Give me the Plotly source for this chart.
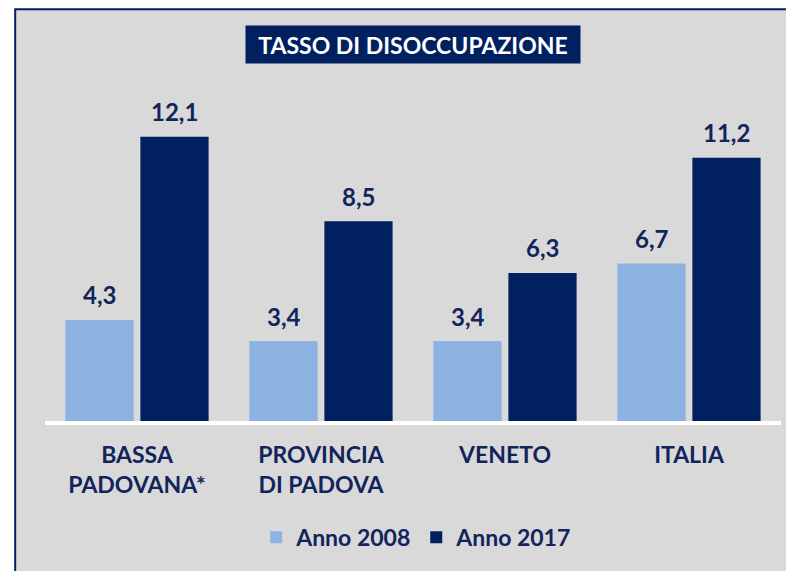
import plotly.graph_objects as go

categories = ["BASSA<br>PADOVANA*", "PROVINCIA<br>DI PADOVA", "VENETO", "ITALIA"]
anno_2008 = [4.3, 3.4, 3.4, 6.7]
anno_2017 = [12.1, 8.5, 6.3, 11.2]
series_names = ["Anno 2008", "Anno 2017"]
title_text = "TASSO DI DISOCCUPAZIONE"

LIGHT = "#8DB3E2"
NAVY = "#002060"
TEXT = "#12245C"
FONT = "Lato"

def fmt(v):
    return f"{v:.1f}".replace(".", ",")

fig = go.Figure()
fig.add_trace(go.Bar(x=categories, y=anno_2008, name=series_names[0],
                     marker=dict(color=LIGHT, line=dict(width=0))))
fig.add_trace(go.Bar(x=categories, y=anno_2017, name=series_names[1],
                     marker=dict(color=NAVY, line=dict(width=0))))

annotations = []
for vals, shift in ((anno_2008, -37.5), (anno_2017, 37.5)):
    for c, v in zip(categories, vals):
        annotations.append(dict(x=c, y=v, xref="x", yref="y", text=fmt(v),
                                showarrow=False, xshift=shift, yshift=25,
                                yanchor="middle",
                                font=dict(family=FONT, size=24, color=TEXT, weight="bold")))

annotations.append(dict(x=0.5, y=1.173, xref="paper", yref="paper", text=title_text,
                        showarrow=False, xanchor="center", yanchor="middle",
                        bgcolor=NAVY, width=332, height=35, borderpad=1,
                        font=dict(family=FONT, size=23, color="white", weight="bold")))

fig.update_layout(
    width=786, height=563, autosize=False,
    margin=dict(l=37, r=13, t=92, b=148),
    paper_bgcolor="white", plot_bgcolor="rgba(0,0,0,0)",
    barmode="group", bargap=0.185, bargroupgap=0.09,
    showlegend=True,
    legend=dict(orientation="h", x=0.505, y=-0.362, xanchor="center", yanchor="middle",
                font=dict(family=FONT, size=23, color=TEXT, weight="bold"),
                bgcolor="rgba(0,0,0,0)", itemclick=False, traceorder="normal"),
    xaxis=dict(showline=True, linecolor="white", linewidth=4, showgrid=False,
               ticks="", ticklabelstandoff=10,
               tickfont=dict(family=FONT, size=23, color=TEXT, weight="bold")),
    yaxis=dict(visible=False, range=[0, 323 / 23.64], showgrid=False, zeroline=False),
    annotations=annotations,
    shapes=[dict(type="rect", xref="paper", yref="paper", x0=-0.0405, x1=1.1, y0=-0.6, y1=1.283,
                 fillcolor="#D9D9D9", line=dict(color=NAVY, width=2), layer="below")],
)

fig.write_html("out.html")
